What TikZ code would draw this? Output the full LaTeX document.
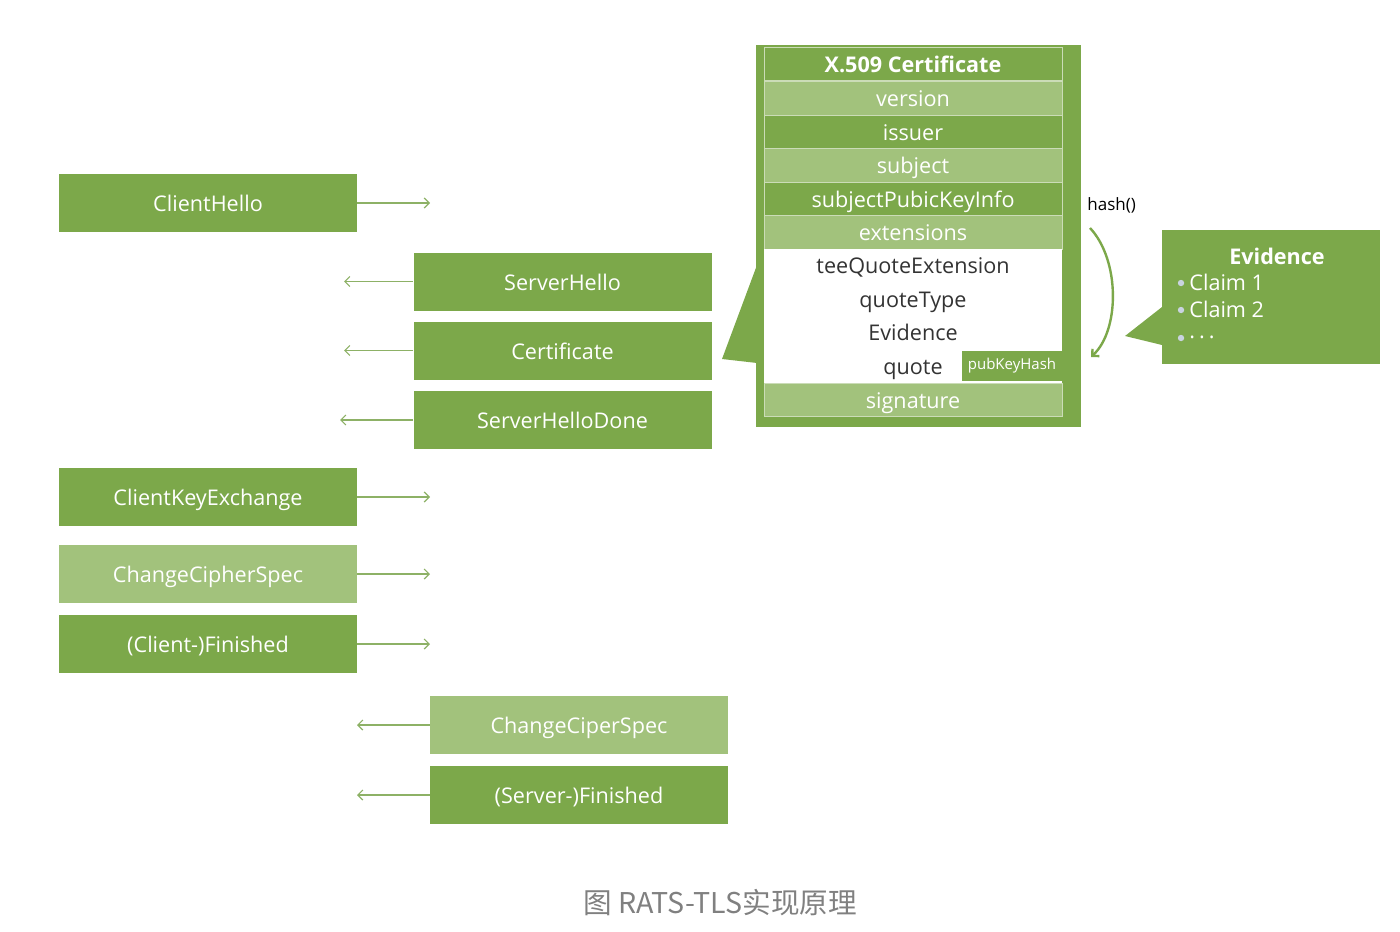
\documentclass[tikz,border=0pt]{standalone}
\usepackage{fontspec}
\setmainfont{Open Sans}
\newfontfamily\cjk{Noto Sans CJK SC}
\usetikzlibrary{arrows.meta}
\definecolor{tgreen}{HTML}{7CA84A}
\definecolor{tlight}{HTML}{A2C27C}
\definecolor{tarrow}{HTML}{8DB166}
\definecolor{ttext}{HTML}{333333}
\definecolor{tdot}{HTML}{C9D3E0}

\begin{document}
\begin{tikzpicture}[x=0.5pt,y=-0.5pt,
  msg/.style={rectangle, fill=tgreen, text=white, minimum width=149pt, minimum height=29pt,
    inner sep=0pt, text height=9.6pt, text depth=1.0pt, font=\fontsize{10.8}{12}\selectfont},
  msglight/.style={msg, fill=tlight},
  row/.style={rectangle, draw=white!60!tgreen, line width=0.4pt, fill=tgreen, text=white,
    minimum width=149pt, minimum height=16.7pt, inner sep=0pt, text height=9.4pt, text depth=1.2pt,
    font=\fontsize{10.8}{12}\selectfont},
  rowlight/.style={row, fill=tlight},
  field/.style={text=ttext, inner sep=0pt, text height=9.4pt, text depth=1.2pt,
    font=\fontsize{10.8}{12}\selectfont},
  claim/.style={text=white, inner sep=0pt, anchor=west, font=\fontsize{10.8}{12}\selectfont},
  flow/.style={draw=tarrow, line width=0.6pt, -{Straight Barb[length=2.5pt,width=5pt]}},
]
\useasboundingbox (0,0) rectangle (1400,931);

% handshake messages
\node[msg] (ch) at (208,203) {ClientHello};
\node[msg] (sh) at (562.5,281.5) {ServerHello};
\node[msg] (cert) at (562.5,350.5) {Certificate};
\node[msg] (shd) at (562.5,420) {ServerHelloDone};
\node[msg] (cke) at (208,497) {ClientKeyExchange};
\node[msglight] (ccs) at (208,574) {ChangeCipherSpec};
\node[msg] (cfin) at (208,644) {(Client-)Finished};
\node[msglight] (scs) at (579,725) {ChangeCiperSpec};
\node[msg] (sfin) at (579,795) {(Server-)Finished};

\coordinate (to ch) at (430,203);
\coordinate (to sh) at (344,281.5);
\coordinate (to cert) at (344,350.5);
\coordinate (to shd) at (340,420);
\coordinate (to cke) at (430,497);
\coordinate (to ccs) at (430,574);
\coordinate (to cfin) at (430,644);
\coordinate (to scs) at (357,725);
\coordinate (to sfin) at (357,795);

\draw[flow] (ch.east) -- (to ch);
\draw[flow] (sh.west) -- (to sh);
\draw[flow] (cert.west) -- (to cert);
\draw[flow] (shd.west) -- (to shd);
\draw[flow] (cke.east) -- (to cke);
\draw[flow] (ccs.east) -- (to ccs);
\draw[flow] (cfin.east) -- (to cfin);
\draw[flow] (scs.west) -- (to scs);
\draw[flow] (sfin.west) -- (to sfin);

% certificate
\fill[tgreen] (756,45) rectangle (1081,427);
\fill[tgreen] (757,265) -- (722,359) -- (757,363) -- cycle;
\node[row, font=\fontsize{10.8}{12}\selectfont\bfseries] (x509) at (913,64) {X.509 Certificate};
\node[rowlight] (ver) at (913,98.5) {version};
\node[row] (iss) at (913,132) {issuer};
\node[rowlight] (subj) at (913,165.5) {subject};
\node[row] (spki) at (913,199) {subjectPubicKeyInfo};
\node[rowlight] (ext) at (913,232.5) {extensions};
\fill[white] (764,249) rectangle (1062,383);
\node[field] (tqe) at (913,265) {teeQuoteExtension};
\node[field] (qt) at (913,299) {quoteType};
\node[field] (ev) at (913,332) {Evidence};
\node[field] (qu) at (913,366) {quote};
\node[rectangle, fill=tgreen, text=white, minimum width=50pt, minimum height=15pt, inner sep=0pt,
  font=\fontsize{7.5}{9}\selectfont] (pkh) at (1012,366) {pubKeyHash};
\node[rowlight] (sig) at (913,400) {signature};

% hash
\node[anchor=west, inner sep=0pt, font=\fontsize{8.5}{10}\selectfont] (hash) at (1087,205) {hash()};
\coordinate (hash top) at (1090,228);
\coordinate (hash end) at (1091,357);
\draw[draw=tgreen, line width=1.2pt, -{Straight Barb[length=2.5pt,width=5pt]}]
  (hash top) .. controls (1120,260) and (1120,330) .. (hash end);

% evidence
\fill[tgreen] (1162,230) rectangle (1380,364);
\fill[tgreen] (1162,307) -- (1125,336) -- (1162,345) -- cycle;
\node[text=white, inner sep=0pt, font=\fontsize{10.8}{12}\selectfont\bfseries] (evt) at (1277,256) {Evidence};
\node[claim] (cl1) at (1189,282) {Claim 1};
\node[claim] (cl2) at (1189,309) {Claim 2};
\node[claim] (cl3) at (1189,337) {.\kern2pt.\kern2pt.};
\foreach \y in {283,310,338} \fill[tdot] (1181,\y) circle (1.6pt);

% caption
\node[text=gray, inner sep=0pt, font=\fontsize{14.3}{16}\selectfont\cjk] (cap) at (720,903) {图 RATS-TLS实现原理};
\end{tikzpicture}
\end{document}
